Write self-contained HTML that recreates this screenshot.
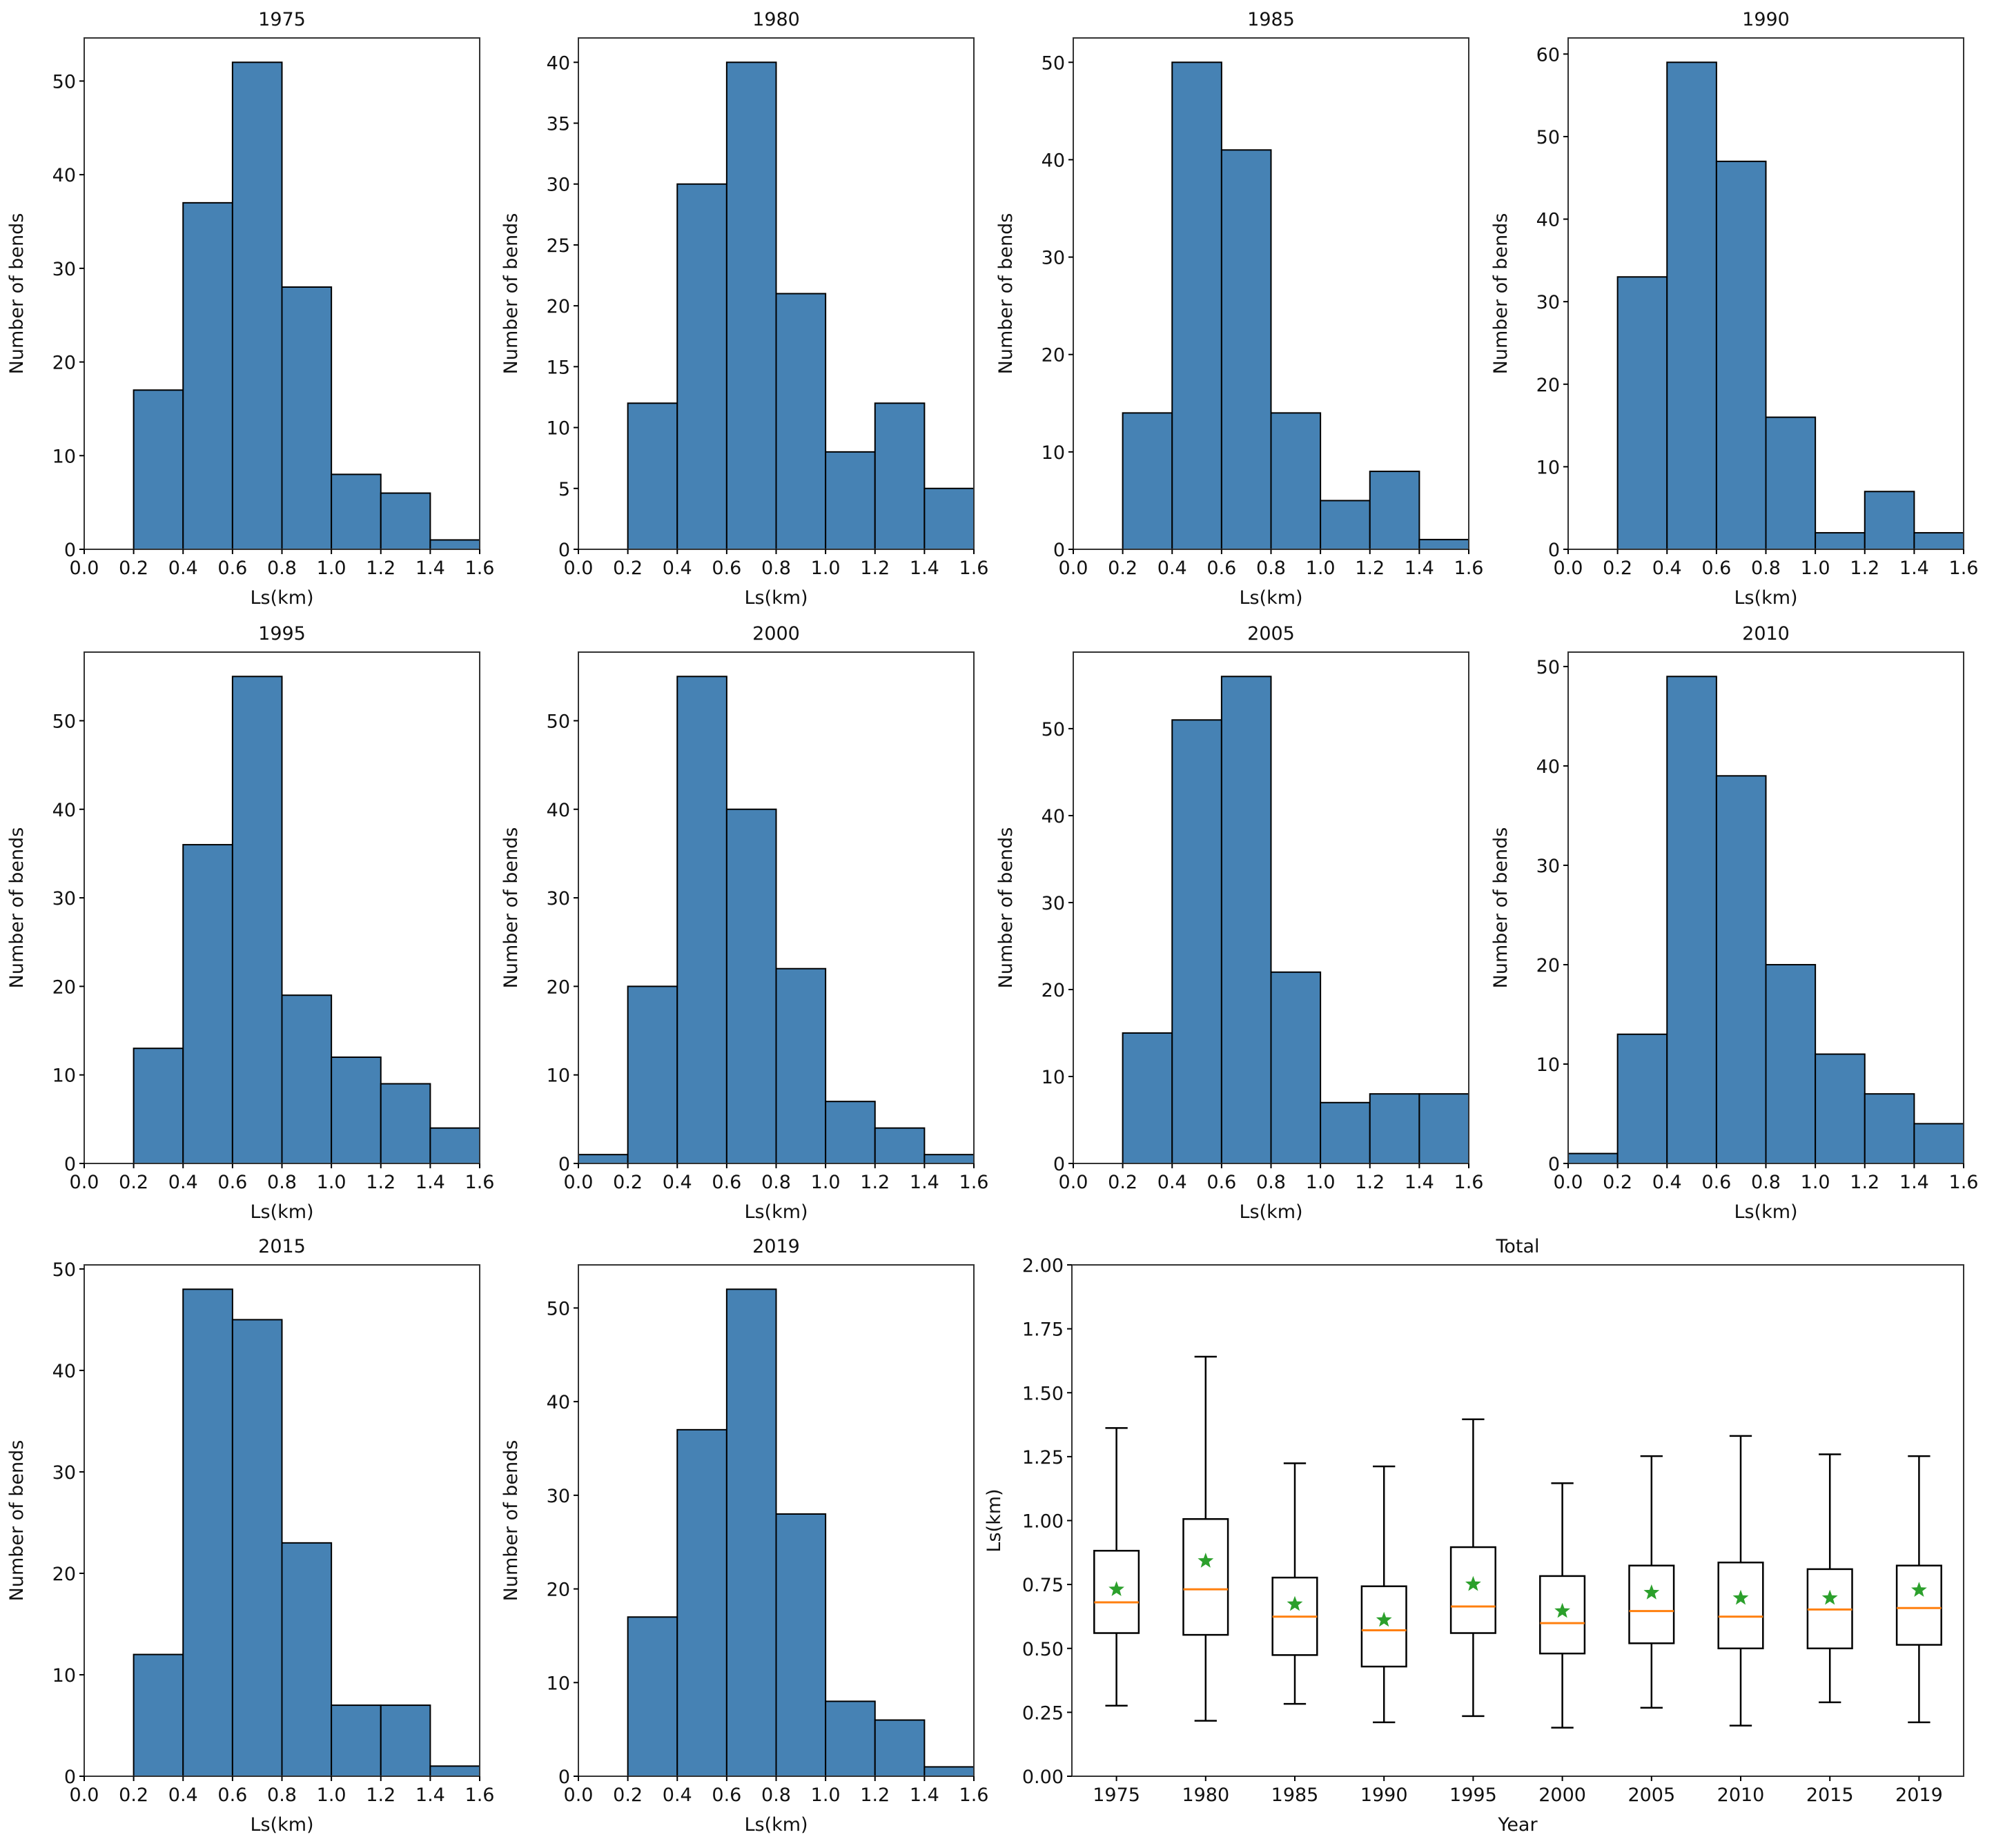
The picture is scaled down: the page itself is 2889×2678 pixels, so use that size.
<!DOCTYPE html>
<html><head><meta charset="utf-8"><style>
html,body{margin:0;padding:0;background:#fff;}
svg{display:block;font-family:"DejaVu Sans","Liberation Sans",sans-serif;}
</style></head><body>
<svg id="fig" width="2889" height="2678" viewBox="0 0 2889 2678" xmlns="http://www.w3.org/2000/svg"></svg>
<script>
const binEdges = [0,0.2,0.4,0.6,0.8,1.0,1.2,1.4,1.6];
const xTickLabels = ["0.0","0.2","0.4","0.6","0.8","1.0","1.2","1.4","1.6"];
const years = ["1975","1980","1985","1990","1995","2000","2005","2010","2015","2019"];
const c1975 = [0,17,37,52,28,8,6,1];
const c1980 = [0,12,30,40,21,8,12,5];
const c1985 = [0,14,50,41,14,5,8,1];
const c1990 = [0,33,59,47,16,2,7,2];
const c1995 = [0,13,36,55,19,12,9,4];
const c2000 = [1,20,55,40,22,7,4,1];
const c2005 = [0,15,51,56,22,7,8,8];
const c2010 = [1,13,49,39,20,11,7,4];
const c2015 = [0,12,48,45,23,7,7,1];
const c2019 = [0,17,37,52,28,8,6,1];
const whiskLow = [0.276,0.217,0.283,0.211,0.235,0.190,0.268,0.198,0.289,0.211];
const q1 = [0.560,0.553,0.474,0.429,0.560,0.480,0.520,0.500,0.500,0.514];
const medians = [0.680,0.731,0.624,0.571,0.664,0.599,0.646,0.624,0.652,0.658];
const q3 = [0.882,1.006,0.777,0.743,0.896,0.783,0.824,0.836,0.810,0.824];
const whiskHigh = [1.362,1.641,1.224,1.212,1.396,1.146,1.252,1.331,1.259,1.252];
const means = [0.731,0.842,0.673,0.611,0.751,0.646,0.718,0.697,0.697,0.728];
const boxYTicks = ["0.00","0.25","0.50","0.75","1.00","1.25","1.50","1.75","2.00"];

const NS="http://www.w3.org/2000/svg";
const svg=document.getElementById('fig');
function mk(tag,attrs,parent){const e=document.createElementNS(NS,tag);for(const k in attrs)e.setAttribute(k,attrs[k]);(parent||svg).appendChild(e);return e;}
function txt(s,attrs,parent){const e=mk('text',attrs,parent);e.textContent=s;return e;}

const counts=[c1975,c1980,c1985,c1990,c1995,c2000,c2005,c2010,c2015,c2019];
const colL=[122,838,1555,2272], W=573;
const rowT=[55,945,1833], H=741;
const FS=27;

counts.forEach((cnt,i)=>{
  const L=colL[i%4], T=rowT[Math.floor(i/4)], B=T+H, R=L+W;
  const g=mk('g',{});
  
  
  const ymax=Math.max(...cnt)*1.05;
  const xs=v=>L+v/1.6*W, ys=v=>B-v/ymax*H;
  for(let k=0;k<cnt.length;k++){
    const r=mk('rect',{x:xs(binEdges[k]),y:ys(cnt[k]),width:xs(binEdges[k+1])-xs(binEdges[k]),height:B-ys(cnt[k]),fill:'#4682b4',stroke:'#000','stroke-width':2},g);
    
    
  }
  const fr=mk('rect',{x:L,y:T,width:W,height:H,fill:'none',stroke:'#333','stroke-width':2},g);
  
  
  xTickLabels.forEach((s,k)=>{
    const x=xs(binEdges[k]);
    mk('line',{x1:x,x2:x,y1:B,y2:B+7,stroke:'#000','stroke-width':2},g);
    const t=txt(s,{x:x,y:B+36,'font-size':FS,'text-anchor':'middle',fill:'#111'},g);
    
    
  });
  const step=(Math.max(...cnt)<=45)?5:10;
  for(let v=0;v<=ymax;v+=step){
    const y=ys(v);
    mk('line',{x1:L-7,x2:L,y1:y,y2:y,stroke:'#000','stroke-width':2},g);
    const t=txt(String(v),{x:L-12,y:y+10,'font-size':FS,'text-anchor':'end',fill:'#111'},g);
    
    
  }
  const tt=txt(years[i],{x:L+W/2,y:T-18,'font-size':FS,'text-anchor':'middle',fill:'#111'},g);
  
  
  const xl=txt('Ls(km)',{x:L+W/2,y:B+79,'font-size':FS,'text-anchor':'middle',fill:'#111'},g);
  
  
  const yx=L-89, yy=T+H/2;
  const yl=txt('Number of bends',{x:yx,y:yy,'font-size':FS,'text-anchor':'middle',fill:'#111',transform:`rotate(-90 ${yx} ${yy})`},g);
  
  
});

// Box plot
(function(){
  const L=1553,R=2845,T=1833,B=2574,W=R-L,H=B-T;
  const g=mk('g',{});
  
  
  const xs=p=>L+(p-0.5)/10*W, ys=v=>B-v/2*H;
  const fr=mk('rect',{x:L,y:T,width:W,height:H,fill:'none',stroke:'#333','stroke-width':2},g);
  
  
  boxYTicks.forEach(s=>{
    const y=ys(parseFloat(s));
    mk('line',{x1:L-7,x2:L,y1:y,y2:y,stroke:'#000','stroke-width':2},g);
    const t=txt(s,{x:L-12,y:y+10,'font-size':FS,'text-anchor':'end',fill:'#111'},g);
    
    
  });
  years.forEach((yr,i)=>{
    const cx=xs(i+1), hw=0.25/10*W, cw=0.125/10*W;
    mk('line',{x1:cx,x2:cx,y1:B,y2:B+7,stroke:'#000','stroke-width':2},g);
    const t=txt(yr,{x:cx,y:B+36,'font-size':FS,'text-anchor':'middle',fill:'#111'},g);
    
    
    const bg=mk('g',{stroke:'#000','stroke-width':2.5,fill:'none'},g);
    
    
    mk('line',{x1:cx,x2:cx,y1:ys(whiskLow[i]),y2:ys(q1[i])},bg);
    mk('line',{x1:cx,x2:cx,y1:ys(q3[i]),y2:ys(whiskHigh[i])},bg);
    mk('line',{x1:cx-cw,x2:cx+cw,y1:ys(whiskLow[i]),y2:ys(whiskLow[i])},bg);
    mk('line',{x1:cx-cw,x2:cx+cw,y1:ys(whiskHigh[i]),y2:ys(whiskHigh[i])},bg);
    mk('rect',{x:cx-hw,y:ys(q3[i]),width:2*hw,height:ys(q1[i])-ys(q3[i])},bg);
    const md=mk('line',{x1:cx-hw,x2:cx+hw,y1:ys(medians[i]),y2:ys(medians[i]),stroke:'#ff7f0e','stroke-width':3},g);
    
    
    const my=ys(means[i]); let pts=[];
    for(let k=0;k<10;k++){const a=-Math.PI/2+k*Math.PI/5, r=k%2?5:12;pts.push((cx+r*Math.cos(a)).toFixed(1)+','+(my+r*Math.sin(a)).toFixed(1));}
    const st=mk('polygon',{points:pts.join(' '),fill:'#2ca02c'},g);
    
    
  });
  const tt=txt('Total',{x:L+W/2,y:T-18,'font-size':FS,'text-anchor':'middle',fill:'#111'},g);
  
  
  const xl=txt('Year',{x:L+W/2,y:B+79,'font-size':FS,'text-anchor':'middle',fill:'#111'},g);
  
  
  const yx=L-104, yy=T+H/2;
  const yl=txt('Ls(km)',{x:yx,y:yy,'font-size':FS,'text-anchor':'middle',fill:'#111',transform:`rotate(-90 ${yx} ${yy})`},g);
  
  
})();
</script>
</body></html>
